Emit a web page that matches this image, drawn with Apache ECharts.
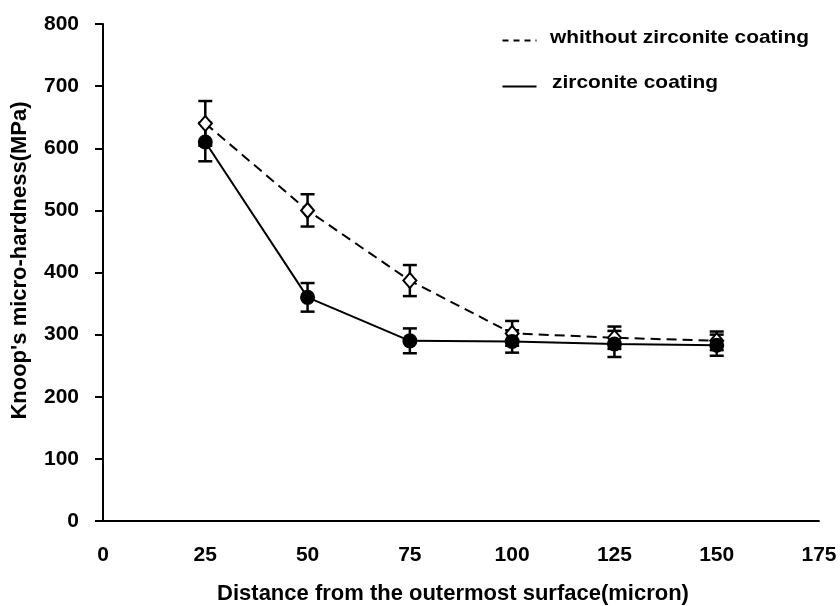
<!DOCTYPE html>
<html>
<head>
<meta charset="utf-8">
<script src="https://cdn.jsdelivr.net/npm/echarts@6/dist/echarts.min.js"></script>
<style>
  html, body { margin: 0; padding: 0; background: #fff; }
  #chart_hardness { width: 840px; height: 606px; }
</style>
</head>
<body>
<div id="chart_hardness"></div>
<script>
// distances (micron)
const distances = [25, 50, 75, 100, 125, 150];
// Knoop micro-hardness (MPa)
const uncoatedValues = [640, 500, 387, 302, 295, 290];
const uncoatedErrors = [36, 26, 25, 20, 18, 15];
const coatedValues = [610, 360, 290, 289, 285, 283];
const coatedErrors = [31, 23, 20, 18, 21, 17];
const xTicks = [0, 25, 50, 75, 100, 125, 150, 175];
const yTicks = [0, 100, 200, 300, 400, 500, 600, 700, 800];

const seriesNames = ["whithout zirconite coating", "zirconite coating"];
const fontFamily = "'Liberation Sans', Arial, sans-serif";

const chart = echarts.init(document.getElementById("chart_hardness"));

const errorData = (vals, errs) =>
  distances.map((d, i) => [d, vals[i] - errs[i], vals[i] + errs[i]]);

const renderErrorBar = function (params, api) {
  const x = api.value(0);
  const lo = api.coord([x, api.value(1)]);
  const hi = api.coord([x, api.value(2)]);
  const half = 7;
  const style = { stroke: "#000", lineWidth: 2.5 };
  return {
    type: "group",
    children: [
      { type: "line", shape: { x1: lo[0], y1: lo[1], x2: hi[0], y2: hi[1] }, style: style },
      { type: "line", shape: { x1: lo[0] - half, y1: lo[1], x2: lo[0] + half, y2: lo[1] }, style: style },
      { type: "line", shape: { x1: hi[0] - half, y1: hi[1], x2: hi[0] + half, y2: hi[1] }, style: style },
    ],
  };
};

let option = {
  backgroundColor: "#fff",
  animation: false,
  grid: { left: 103, right: 21, top: 24, bottom: 85, outerBoundsMode: "none", containLabel: false },
  xAxis: {
    type: "value",
    min: xTicks[0],
    max: xTicks[xTicks.length - 1],
    interval: 25,
    name: "Distance from the outermost surface(micron)",
    nameLocation: "middle",
    nameGap: 62,
    nameTextStyle: {
      fontFamily: fontFamily, fontWeight: "bold", fontSize: 22, color: "#000",
      padding: [0, 16, 0, 0],
    },
    axisLine: { show: true, onZero: false, lineStyle: { color: "#000", width: 1.8 } },
    axisTick: { show: false },
    splitLine: { show: false },
    axisLabel: {
      margin: 24,
      fontFamily: fontFamily, fontWeight: "bold", fontSize: 21, color: "#000",
    },
  },
  yAxis: {
    type: "value",
    min: yTicks[0],
    max: yTicks[yTicks.length - 1],
    interval: 100,
    offset: 3,
    name: "Knoop's micro-hardness(MPa)",
    nameLocation: "middle",
    nameGap: 69,
    nameTextStyle: {
      fontFamily: fontFamily, fontWeight: "bold", fontSize: 22, color: "#000",
      padding: [0, 0, 0, 24],
    },
    axisLine: { show: true, lineStyle: { color: "#000", width: 2 } },
    axisTick: { show: true, length: 8, lineStyle: { color: "#000", width: 2 } },
    splitLine: { show: false },
    axisLabel: {
      margin: 21,
      fontFamily: fontFamily, fontWeight: "bold", fontSize: 21, color: "#000",
    },
  },
  graphic: [
    { type: "line", left: 500, top: 38, shape: { x1: 0, y1: 0, x2: 34, y2: 0 },
      style: { stroke: "#000", lineWidth: 2, lineDash: [6, 5] } },
    { type: "text", left: 550, top: 28, scaleX: 1.1,
      style: { text: seriesNames[0], fill: "#000", font: "bold 19px " + fontFamily } },
    { type: "line", left: 500, top: 84, shape: { x1: 0, y1: 0, x2: 34, y2: 0 },
      style: { stroke: "#000", lineWidth: 2 } },
    { type: "text", left: 552, top: 73, scaleX: 1.1,
      style: { text: seriesNames[1], fill: "#000", font: "bold 19px " + fontFamily } },
  ],
  series: [
    {
      type: "custom",
      renderItem: renderErrorBar,
      data: errorData(uncoatedValues, uncoatedErrors),
      z: 1,
    },
    {
      type: "custom",
      renderItem: renderErrorBar,
      data: errorData(coatedValues, coatedErrors),
      z: 1,
    },
    {
      name: seriesNames[0],
      type: "line",
      data: distances.map((d, i) => [d, uncoatedValues[i]]),
      symbol: "diamond",
      symbolSize: [13, 15],
      itemStyle: { color: "#fff", borderColor: "#000", borderWidth: 2 },
      lineStyle: { color: "#000", width: 2, type: [10, 6] },
      z: 3,
    },
    {
      name: seriesNames[1],
      type: "line",
      data: distances.map((d, i) => [d, coatedValues[i]]),
      symbol: "circle",
      symbolSize: 15,
      itemStyle: { color: "#000", borderColor: "#000", borderWidth: 0 },
      lineStyle: { color: "#000", width: 2 },
      z: 4,
    },
  ],
};
chart.setOption(option);
</script>
</body>
</html>
